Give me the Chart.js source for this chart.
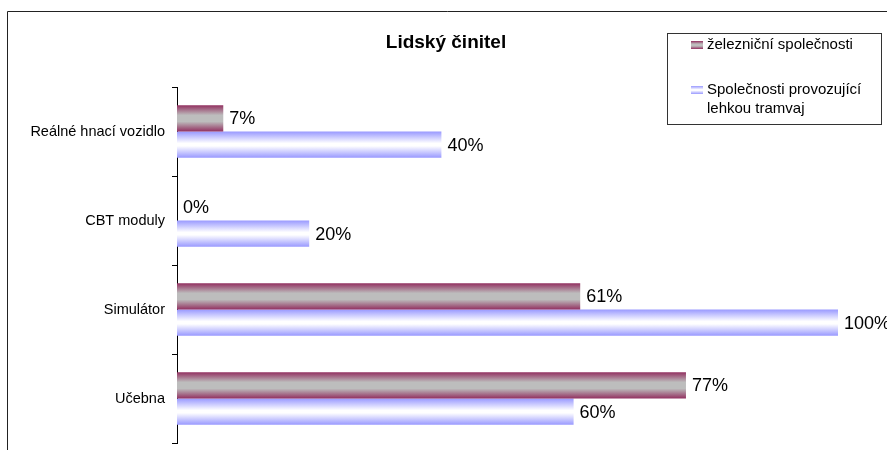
<!DOCTYPE html>
<html lang="cs">
<head>
<meta charset="utf-8">
<title>Lidský činitel</title>
<script src="https://cdn.jsdelivr.net/npm/chart.js@4/dist/chart.umd.min.js"></script>
<style>
    html, body { margin: 0; padding: 0; background: #fff; }
    #wrap { position: relative; width: 887px; height: 450px; }
</style>
</head>
<body>
<div id="wrap"><canvas id="graf"></canvas></div>
<script>
// ==================== DATA ====================
const KATEGORIE = ['Reálné hnací vozidlo', 'CBT moduly', 'Simulátor', 'Učebna'];
const ZELEZNICE = [7, 0, 61, 77];
const TRAMVAJE = [40, 20, 100, 60];
const NAZEV_ZELEZNICE = ['železniční společnosti'];
const NAZEV_TRAMVAJE = ['Společnosti provozující', 'lehkou tramvaj'];
const TITULEK = 'Lidský činitel';

const PODIL_KATEGORIE = 0.59;
const FONT = "'Liberation Sans', Arial, sans-serif";

// přechody výplně sloupců: okraj - střed - okraj
const PRECHOD_ZELEZNICE = [[0, '#923060'], [0.38, '#bdbdbd'], [0.62, '#bdbdbd'], [1, '#923060']];
const PRECHOD_TRAMVAJE = [[0, '#9999ff'], [0.45, '#ffffff'], [0.55, '#ffffff'], [1, '#9999ff']];

function prechod(ctx2d, top, h, stops) {
    const g = ctx2d.createLinearGradient(0, top, 0, top + h);
    stops.forEach(([o, c]) => g.addColorStop(o, c));
    return g;
}

// gradient pro jeden sloupec, spočítaný ze svislé osy
function vyplnSloupce(stops) {
    return (ctx) => {
        const chart = ctx.chart;
        const osa = chart.scales.y;
        if (!osa || ctx.type !== 'data') return stops[0][1];
        const sirka = osa.height / KATEGORIE.length * PODIL_KATEGORIE / 2;
        const stred = osa.getPixelForValue(ctx.dataIndex);
        const top = stred - sirka + ctx.datasetIndex * sirka;
        // osa ještě nemusí mít rozměry (první průchod před layoutem)
        if (!isFinite(top) || !isFinite(sirka) || sirka <= 0) return stops[0][1];
        return prechod(chart.ctx, top, sirka, stops);
    };
}

// rámeček grafu, titulek, legenda a popisky hodnot
const doplnky = {
    id: 'doplnky',
    afterDraw(chart) {
        const c = chart.ctx;
        c.save();

        // rámeček oblasti grafu
        c.strokeStyle = '#222';
        c.lineWidth = 1;
        c.beginPath();
        c.moveTo(7.5, chart.height);
        c.lineTo(7.5, 11.5);
        c.lineTo(chart.width, 11.5);
        c.stroke();

        // titulek
        c.fillStyle = '#000';
        c.textBaseline = 'middle';
        c.textAlign = 'center';
        c.font = `bold 19px ${FONT}`;
        c.fillText(TITULEK, 446, 43);

        // legenda
        c.strokeStyle = '#333';
        c.strokeRect(667.5, 33.5, 214, 91);
        c.font = `15px ${FONT}`;
        c.textAlign = 'left';
        const polozky = [
            { text: NAZEV_ZELEZNICE, y: 45, stops: PRECHOD_ZELEZNICE },
            { text: NAZEV_TRAMVAJE, y: 90, stops: PRECHOD_TRAMVAJE },
        ];
        polozky.forEach(p => {
            c.fillStyle = prechod(c, p.y - 4, 8, p.stops);
            c.fillRect(691, p.y - 4, 12, 8);
            c.fillStyle = '#000';
            p.text.forEach((radek, i) => c.fillText(radek, 707, p.y + i * 18.5));
        });

        // hodnoty za konci sloupců
        c.font = `18px ${FONT}`;
        chart.data.datasets.forEach((ds, di) => {
            chart.getDatasetMeta(di).data.forEach((el, i) => {
                c.fillText(`${ds.data[i]}%`, el.x + 6, el.y + 1);
            });
        });
        c.restore();
    },
};

new Chart(document.getElementById('graf'), {
    type: 'bar',
    data: {
        labels: KATEGORIE,
        datasets: [
            {
                label: NAZEV_ZELEZNICE.join(' '),
                data: ZELEZNICE,
                backgroundColor: vyplnSloupce(PRECHOD_ZELEZNICE),
                borderWidth: 0,
            },
            {
                label: NAZEV_TRAMVAJE.join(' '),
                data: TRAMVAJE,
                backgroundColor: vyplnSloupce(PRECHOD_TRAMVAJE),
                borderWidth: 0,
            },
        ],
    },
    options: {
        indexAxis: 'y',
        responsive: true,
        maintainAspectRatio: false,
        animation: false,
        events: [],
        categoryPercentage: PODIL_KATEGORIE,
        barPercentage: 1,
        layout: { padding: { left: 0, right: 49, top: 87, bottom: 7 } },
        plugins: {
            legend: { display: false },
            tooltip: { enabled: false },
            title: { display: false },
        },
        scales: {
            x: { display: false, min: 0, max: 100 },
            y: {
                afterFit(scale) {
                    scale.width = 177;
                    scale.paddingTop = 0;
                    scale.paddingBottom = 0;
                },
                grid: { drawOnChartArea: false, drawTicks: true, tickLength: 5, color: '#000', offset: true },
                border: { display: true, color: '#000', width: 1 },
                ticks: { color: '#000', padding: 7, font: { family: FONT, size: 14.5 } },
            },
        },
    },
    plugins: [doplnky],
});
</script>
</body>
</html>
